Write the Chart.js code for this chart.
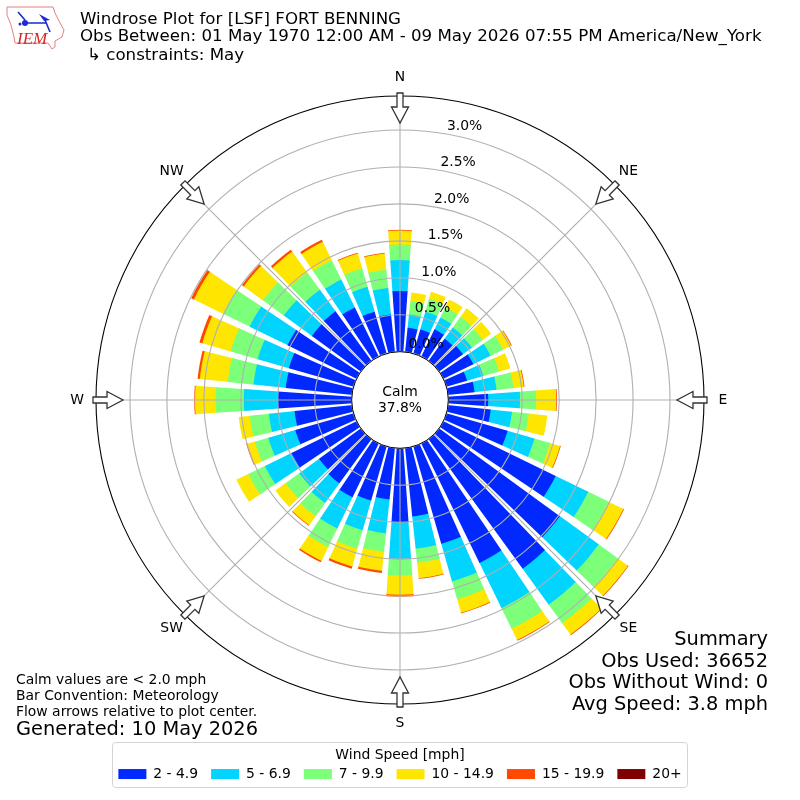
<!DOCTYPE html>
<html>
<head>
<meta charset="utf-8">
<title>Windrose Plot</title>
<style>
  html, body { margin: 0; padding: 0; background: #fff; }
  canvas { display: block; }
</style>
<script src="https://cdn.jsdelivr.net/npm/chart.js@4/dist/chart.umd.min.js"></script>
</head>
<body>
<canvas id="windrose" width="800" height="800"></canvas>
<script>
// Direction the wind blows from, one bar per 10 degrees
const directions = [0, 10, 20, 30, 40, 50, 60, 70, 80, 90, 100, 110, 120, 130, 140, 150, 160, 170,
  180, 190, 200, 210, 220, 230, 240, 250, 260, 270, 280, 290, 300, 310, 320, 330, 340, 350]

const speedLabels = ['2 - 4.9', '5 - 6.9', '7 - 9.9', '10 - 14.9', '15 - 19.9', '20+']
const speedColors = ['#0028ff', '#00d4ff', '#7cff79', '#ffe600', '#ff4800', '#7f0000']

// Percent of observations in each speed band, by direction
const speed2to5 = [0.82, 0.33, 0.34, 0.41, 0.37, 0.40, 0.45, 0.29, 0.36, 0.54, 0.58, 0.86,
  1.69, 2.02, 2.17, 1.80, 1.37, 0.93, 1.00, 0.70, 0.76, 0.81, 0.74, 0.70,
  0.98, 0.82, 0.78, 1.00, 0.90, 0.91, 1.04, 0.82, 0.83, 0.74, 0.59, 0.51]
const speed5to7 = [0.42, 0.18, 0.25, 0.18, 0.19, 0.15, 0.26, 0.23, 0.30, 0.43, 0.29, 0.38,
  0.49, 0.65, 0.60, 0.68, 0.53, 0.44, 0.50, 0.46, 0.42, 0.47, 0.33, 0.33,
  0.40, 0.38, 0.35, 0.46, 0.44, 0.44, 0.57, 0.47, 0.36, 0.42, 0.35, 0.36]
const speed7to10 = [0.21, 0.18, 0.18, 0.15, 0.18, 0.18, 0.19, 0.22, 0.23, 0.22, 0.23, 0.22,
  0.31, 0.32, 0.31, 0.31, 0.25, 0.19, 0.22, 0.25, 0.26, 0.28, 0.22, 0.23,
  0.25, 0.19, 0.26, 0.38, 0.35, 0.38, 0.40, 0.35, 0.29, 0.29, 0.26, 0.25]
const speed10to15 = [0.19, 0.12, 0.10, 0.12, 0.14, 0.14, 0.12, 0.16, 0.14, 0.27, 0.25, 0.14,
  0.22, 0.17, 0.19, 0.17, 0.19, 0.21, 0.26, 0.26, 0.25, 0.21, 0.15, 0.17,
  0.18, 0.11, 0.15, 0.28, 0.38, 0.40, 0.44, 0.32, 0.35, 0.28, 0.21, 0.22]
const speed15to20 = [0.01, 0, 0, 0, 0, 0, 0.01, 0, 0.01, 0.01, 0, 0.01,
  0.01, 0.01, 0.01, 0.01, 0.01, 0.01, 0.03, 0.03, 0.03, 0.02, 0.01, 0,
  0, 0.01, 0, 0.01, 0.03, 0.04, 0.04, 0.03, 0.03, 0.03, 0.01, 0.01]
const speed20up = [0, 0, 0, 0, 0, 0, 0, 0, 0, 0, 0, 0, 0, 0, 0, 0, 0, 0,
  0, 0, 0, 0, 0, 0, 0, 0, 0, 0, 0, 0, 0, 0, 0, 0, 0, 0]

const compassLabels = ['N', 'NE', 'E', 'SE', 'S', 'SW', 'W', 'NW']
const titleLines = ['Windrose Plot for [LSF] FORT BENNING',
  'Obs Between: 01 May 1970 12:00 AM - 09 May 2026 07:55 PM America/New_York']
const constraintLine = '↳ constraints: May'
const noteLines = ['Calm values are < 2.0 mph', 'Bar Convention: Meteorology', 'Flow arrows relative to plot center.']
const generatedLine = 'Generated: 10 May 2026'
const summaryLines = ['Summary', 'Obs Used: 36652', 'Obs Without Wind: 0', 'Avg Speed: 3.8 mph']
const calmLines = ['Calm', '37.8%']

const FONT = '"DejaVu Sans"'
const BAR_ANGLE = 8
const GAP_ANGLE = 2
const R_MIN = -0.654
const R_MAX = 3.46

// Polar area has no stacking, so each arc gets an inner radius from the band below it.
// A 1px overlap under the previous band hides the seam.
class WindRingController extends Chart.PolarAreaController {
  updateElement(element, index, properties, mode) {
    const base = this.getDataset().base[index]
    const scale = this._cachedMeta.rScale
    properties.innerRadius = properties.outerRadius > 0
      ? Math.max(0, scale.getDistanceFromCenterForValue(base) - 1)
      : 0
    super.updateElement(element, index, properties, mode)
  }
}
WindRingController.id = 'windRing'
WindRingController.defaults = Chart.PolarAreaController.defaults
WindRingController.overrides = Chart.PolarAreaController.overrides
Chart.register(WindRingController)

// Each bar is followed by an empty spacer slice, which gives the gaps between bars
const bands = [speed2to5, speed5to7, speed7to10, speed10to15, speed15to20, speed20up]
const running = directions.map(() => 0)
const datasets = bands.map((band, b) => {
  const data = []
  const base = []
  band.forEach((v, i) => {
    base.push(running[i], R_MIN)
    running[i] += v
    data.push(v > 0 ? running[i] : R_MIN, R_MIN)
  })
  return {
    label: speedLabels[b],
    data,
    base,
    backgroundColor: speedColors[b],
    borderWidth: 0,
    angle: ctx => (ctx.dataIndex % 2 ? GAP_ANGLE : BAR_ANGLE),
  }
})
const sliceLabels = directions.flatMap(d => [String(d), ''])

function drawText(ctx, text, x, y, size, align = 'left', color = '#000') {
  ctx.font = `${size}px ${FONT}`
  ctx.fillStyle = color
  ctx.textAlign = align
  ctx.textBaseline = 'middle'
  ctx.fillText(text, x, y)
}

function drawLogo(ctx) {
  ctx.save()
  ctx.strokeStyle = '#e58080'
  ctx.lineWidth = 1
  ctx.beginPath()
  const outline = [[7, 7], [53, 7], [55, 13], [59, 21], [64, 30], [62, 37], [55, 41], [55, 47], [52, 49], [48, 43], [15, 43], [14, 37], [11, 25], [7, 15]]
  outline.forEach((p, i) => (i ? ctx.lineTo(p[0], p[1]) : ctx.moveTo(p[0], p[1])))
  ctx.closePath()
  ctx.stroke()
  ctx.strokeStyle = '#1a2bd0'
  ctx.fillStyle = '#1a2bd0'
  ctx.lineWidth = 1.6
  ctx.beginPath()
  ctx.moveTo(25, 23)
  ctx.lineTo(47, 23)
  ctx.moveTo(45, 20)
  ctx.lineTo(50, 32)
  ctx.moveTo(18, 12)
  ctx.lineTo(25, 20)
  ctx.stroke()
  ctx.beginPath()
  ctx.arc(25, 23, 3, 0, Math.PI * 2)
  ctx.arc(20, 24, 1.5, 0, Math.PI * 2)
  ctx.fill()
  ctx.beginPath()
  ctx.moveTo(39, 14)
  ctx.lineTo(50, 20)
  ctx.lineTo(44, 21)
  ctx.closePath()
  ctx.fill()
  ctx.font = 'italic 17px "Liberation Serif"'
  ctx.fillStyle = '#d62828'
  ctx.textAlign = 'left'
  ctx.textBaseline = 'alphabetic'
  ctx.fillText('IEM', 17, 44)
  ctx.restore()
}

const windroseDecor = {
  id: 'windroseDecor',
  beforeDraw(chart) {
    // legend frame
    const ctx = chart.ctx
    ctx.save()
    ctx.strokeStyle = '#d4d4d4'
    ctx.lineWidth = 1
    ctx.beginPath()
    ctx.roundRect(112.5, 742.5, 575, 45, 3)
    ctx.stroke()
    ctx.restore()
  },
  afterDatasetsDraw(chart) {
    // spokes every 45 degrees, above the bars
    const { ctx, scales: { r } } = chart
    ctx.save()
    ctx.strokeStyle = '#b0b0b0'
    ctx.lineWidth = 1.1
    compassLabels.forEach((_, i) => {
      const a = (i * 45 * Math.PI) / 180
      ctx.beginPath()
      ctx.moveTo(r.xCenter, r.yCenter)
      ctx.lineTo(r.xCenter + r.drawingArea * Math.sin(a), r.yCenter - r.drawingArea * Math.cos(a))
      ctx.stroke()
    })
    ctx.restore()
  },
  afterDraw(chart) {
    const { ctx, scales: { r } } = chart
    const cx = r.xCenter
    const cy = r.yCenter
    ctx.save()

    // calm disc
    ctx.beginPath()
    ctx.arc(cx, cy, r.getDistanceFromCenterForValue(0), 0, Math.PI * 2)
    ctx.fillStyle = '#fff'
    ctx.fill()
    ctx.strokeStyle = '#000'
    ctx.lineWidth = 1
    ctx.stroke()
    drawText(ctx, calmLines[0], cx, cy - 8, 13.9, 'center')
    drawText(ctx, calmLines[1], cx, cy + 8, 13.9, 'center')

    // radial labels stay horizontal, so they cannot use the scale's own rotated ones
    const labelAngle = (10 * Math.PI) / 180
    r.ticks.forEach(t => {
      if (t.value < 0 || t.value > 3.01) return
      const d = r.getDistanceFromCenterForValue(t.value)
      drawText(ctx, `${t.value.toFixed(1)}%`, cx + d * Math.sin(labelAngle) + 17.7, cy - d * Math.cos(labelAngle) - 7.6, 13.9, 'center')
    })

    // flow arrows and compass names
    compassLabels.forEach((name, i) => {
      const a = (i * 45 * Math.PI) / 180
      ctx.save()
      ctx.translate(cx, cy)
      ctx.rotate(a)
      ctx.beginPath()
      ctx.moveTo(-3, -307)
      ctx.lineTo(3, -307)
      ctx.lineTo(3, -293)
      ctx.lineTo(8.5, -293)
      ctx.lineTo(0, -277)
      ctx.lineTo(-8.5, -293)
      ctx.lineTo(-3, -293)
      ctx.closePath()
      ctx.fillStyle = '#fff'
      ctx.fill()
      ctx.strokeStyle = '#333'
      ctx.lineWidth = 1.3
      ctx.stroke()
      ctx.restore()
      drawText(ctx, name, cx + 323 * Math.sin(a), cy - 323 * Math.cos(a), 13.9, 'center')
    })

    // header
    drawLogo(ctx)
    drawText(ctx, titleLines[0], 80, 20, 16.67)
    drawText(ctx, titleLines[1], 80, 37, 16.67)
    drawText(ctx, constraintLine, 87, 56, 16.67)

    // footer notes
    noteLines.forEach((line, i) => drawText(ctx, line, 16, 680 + i * 16, 13.9))
    drawText(ctx, generatedLine, 16, 730, 19.4)

    // summary block
    summaryLines.forEach((line, i) => drawText(ctx, line, 768, 640 + i * 21.7, 19.4, 'right'))
    ctx.restore()
  },
}

new Chart(document.getElementById('windrose'), {
  type: 'windRing',
  data: { labels: sliceLabels, datasets },
  plugins: [windroseDecor],
  options: {
    responsive: false,
    animation: false,
    layout: { padding: { left: 96, right: 96, top: 96, bottom: 9 } },
    scales: {
      r: {
        type: 'radialLinear',
        min: R_MIN,
        max: R_MAX,
        startAngle: -BAR_ANGLE / 2,
        angleLines: { display: false },
        pointLabels: { display: false },
        grid: {
          circular: true,
          z: 1,
          lineWidth: 1.1,
          color: ctx => {
            if (ctx.tick.value >= 3.4) return '#000'
            return ctx.tick.value < 0 ? 'rgba(0,0,0,0)' : '#b0b0b0'
          },
        },
        ticks: { display: false, stepSize: 0.5 },
      },
    },
    plugins: {
      tooltip: { enabled: false },
      legend: {
        position: 'bottom',
        title: {
          display: true,
          text: 'Wind Speed [mph]',
          color: '#000',
          font: { family: FONT, size: 13.9 },
          padding: { top: 43, bottom: -10.6 },
        },
        labels: {
          color: '#000',
          boxWidth: 28,
          boxHeight: 10,
          padding: 13,
          font: { family: FONT, size: 13.9 },
          generateLabels: () => speedLabels.map((text, i) => ({
            text,
            fillStyle: speedColors[i],
            strokeStyle: speedColors[i],
            lineWidth: 0,
            hidden: false,
            index: i,
          })),
        },
      },
    },
  },
})
</script>
</body>
</html>
